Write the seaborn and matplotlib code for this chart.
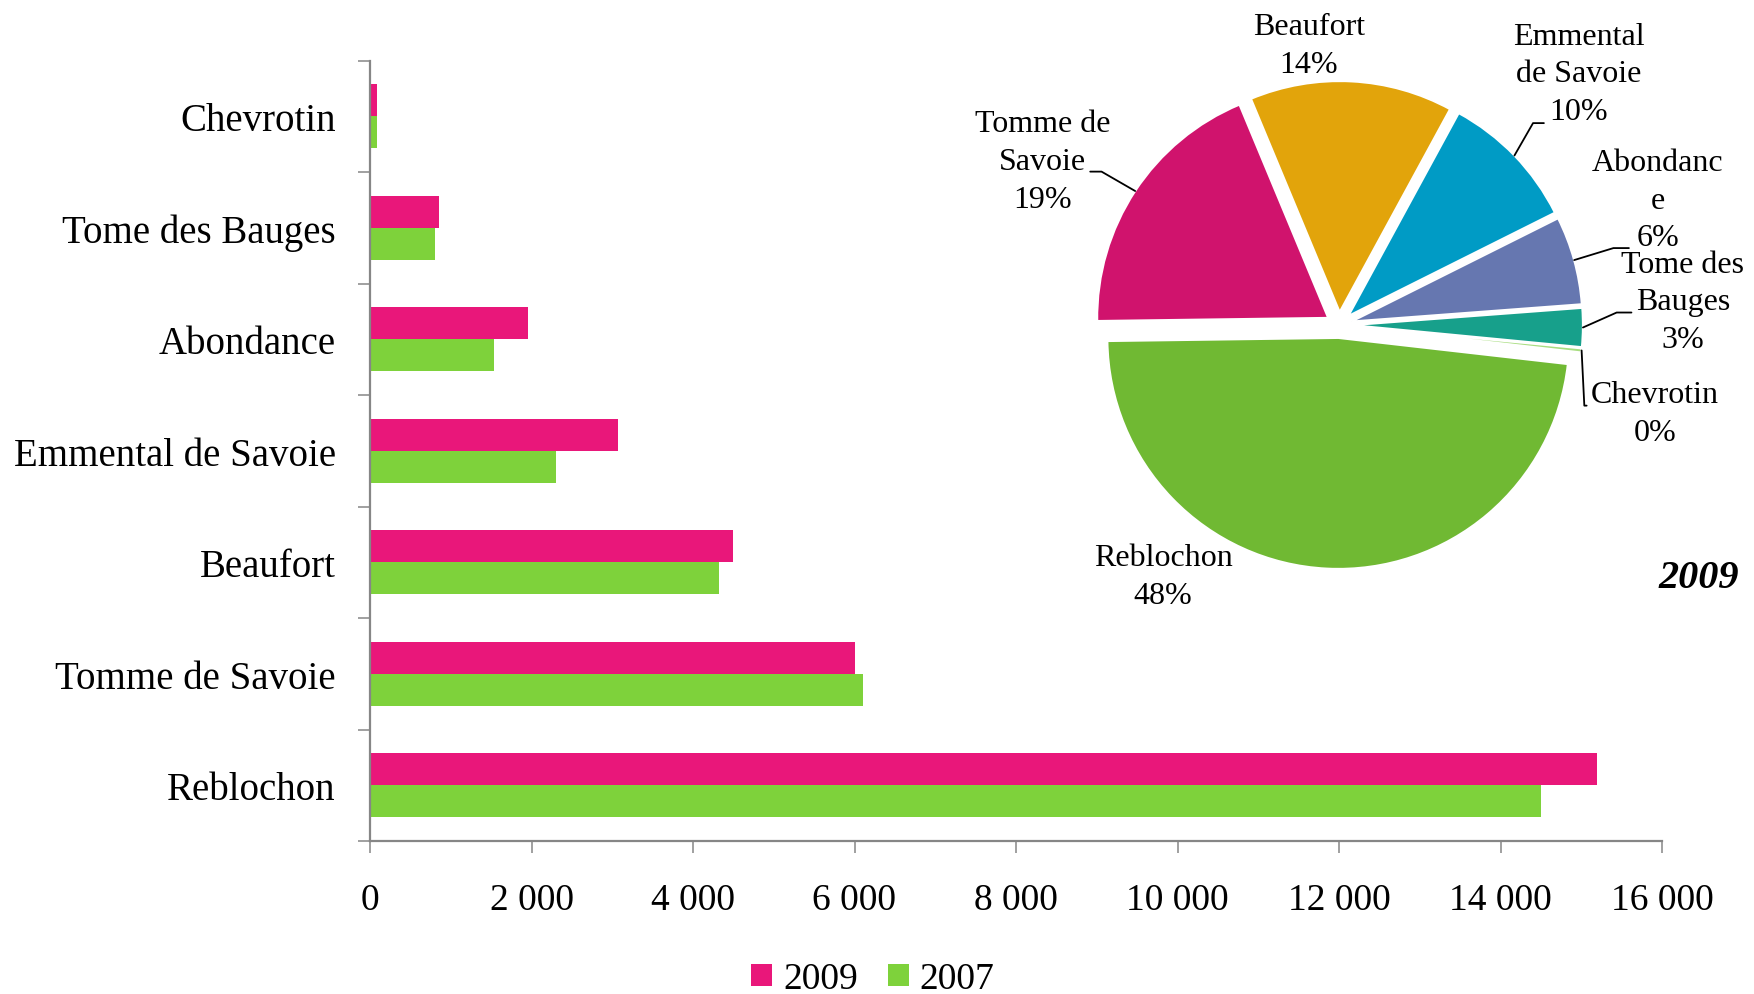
import numpy as np
import pandas as pd
import matplotlib
matplotlib.use('Agg')
import matplotlib.pyplot as plt
import seaborn as sns

# --- data (tonnes) ---
cheeses = ['Chevrotin', 'Tome des Bauges', 'Abondance', 'Emmental de Savoie',
           'Beaufort', 'Tomme de Savoie', 'Reblochon']
tonnes_2009 = [90, 860, 1960, 3070, 4500, 6000, 15200]
tonnes_2007 = [90, 800, 1530, 2300, 4320, 6100, 14500]
years = ['2009', '2007']
x_ticks = [0, 2000, 4000, 6000, 8000, 10000, 12000, 14000, 16000]

# pie uses 2009 values, Reblochon first (clockwise)
pie_names = ['Reblochon', 'Tomme de\nSavoie', 'Beaufort', 'Emmental\nde Savoie',
             'Abondanc\ne', 'Tome des\nBauges', 'Chevrotin']
pie_values = tonnes_2009[::-1]

bar_colors = ['#E9177A', '#7ED23B']
pie_colors = ['#70B933', '#D0136D', '#E2A40B', '#009BC5', '#6677B0', '#17A08B', '#A8DD80']
gray = '#868686'

sns.set_style('white')
plt.rcParams['font.family'] = ['Liberation Serif', 'DejaVu Serif']
plt.rcParams['text.color'] = 'black'
plt.rcParams['xtick.labelcolor'] = 'black'
plt.rcParams['ytick.labelcolor'] = 'black'

df = pd.DataFrame({
    'cheese': cheeses * 2,
    'year': ['2009'] * len(cheeses) + ['2007'] * len(cheeses),
    'tonnes': tonnes_2009 + tonnes_2007,
})

W, H = 1754, 995
fig = plt.figure(figsize=(W / 100, H / 100), dpi=100)

# ─── bar chart ───
ax = fig.add_axes([370 / W, 1 - 842 / H, (1662 - 370) / W, (842 - 61.5) / H])
sns.barplot(data=df, y='cheese', x='tonnes', hue='year', order=cheeses,
            hue_order=years, palette=bar_colors, orient='h', width=0.57,
            saturation=1, linewidth=0, errorbar=None, legend=True, ax=ax)

handles, labels = ax.get_legend_handles_labels()
ax.get_legend().remove()

ax.set_xlim(0, 16000)
ax.set_ylim(len(cheeses) - 0.5, -0.5)
ax.set_xlabel('')
ax.set_ylabel('')
ax.set_xticks(x_ticks)
ax.set_xticklabels([f'{v:,}'.replace(',', ' ') for v in x_ticks], fontsize=27)
ax.tick_params(axis='x', bottom=True, direction='out', length=8.6, width=1.1,
               color=gray, labelcolor='black', pad=21)
ax.set_yticks(range(len(cheeses)))
ax.set_yticklabels(cheeses, fontsize=28)
ax.tick_params(axis='y', which='major', left=True, length=0, pad=24.5, labelcolor='black')
ax.set_yticks(np.arange(-0.5, len(cheeses), 1.0), minor=True)
ax.tick_params(axis='y', which='minor', left=True, direction='out', length=8.6,
               width=1.1, color=gray)
sns.despine(ax=ax)
for s in ['left', 'bottom']:
    ax.spines[s].set_color(gray)
    ax.spines[s].set_linewidth(1.6)

fig.legend(handles, labels, loc='center', bbox_to_anchor=(873 / W, 1 - 980 / H),
           ncol=2, frameon=False, fontsize=27, handlelength=0.55, handleheight=0.55,
           handletextpad=0.3, columnspacing=0.8, borderpad=0, labelcolor='black')

# ─── pie chart (2009 shares) ───
cx, cy, rpx, half = 1339, 326, 231, 400
ax2 = fig.add_axes([(cx - half) / W, (H - cy - half) / H, 2 * half / W, 2 * half / H])
expl = 0.056
start = -6.5
wedges, _ = ax2.pie(pie_values, colors=pie_colors, startangle=start, counterclock=False,
                    explode=[expl] * len(pie_values), radius=1.0,
                    wedgeprops=dict(edgecolor='white', linewidth=1.5))
lim = half / rpx
ax2.set_xlim(-lim, lim)
ax2.set_ylim(-lim, lim)
ax2.set_aspect('equal')
ax2.axis('off')

total = sum(pie_values)
# text centre, elbow, end of leader (data units, radius = 1)
text_pos = [(-0.762, -1.089), (-1.284, 0.708), (-0.130, 1.210), (1.039, 1.087),
            (1.381, 0.541), (1.489, 0.0996), (1.368, -0.383)]
leaders = [None,
           [(-1.028, 0.664), (-1.077, 0.664)],
           None,
           [(0.840, 0.874), (0.887, 0.874)],
           [(1.188, 0.333), (1.255, 0.333)],
           [(1.202, 0.054), (1.266, 0.054)],
           [(1.062, -0.349), (1.072, -0.349)]]

for w, name, val, pos, lead in zip(wedges, pie_names, pie_values, text_pos, leaders):
    pct = f'{val / total * 100:.0f}%'
    ax2.text(pos[0], pos[1], f'{name}\n{pct}', ha='center', va='center',
             fontsize=23, linespacing=1.4, color='black')
    if lead is not None:
        mid = np.deg2rad((w.theta1 + w.theta2) / 2)
        ox, oy = w.center
        p0 = (ox + np.cos(mid), oy + np.sin(mid))
        xs = [p0[0]] + [p[0] for p in lead]
        ys = [p0[1]] + [p[1] for p in lead]
        ax2.plot(xs, ys, color='black', lw=1.3, clip_on=False)

fig.text(1739 / W, 1 - 578 / H, '2009', ha='right', va='center', fontsize=29,
         fontweight='bold', fontstyle='italic', color='black')

fig.savefig('out.png', dpi=100)
